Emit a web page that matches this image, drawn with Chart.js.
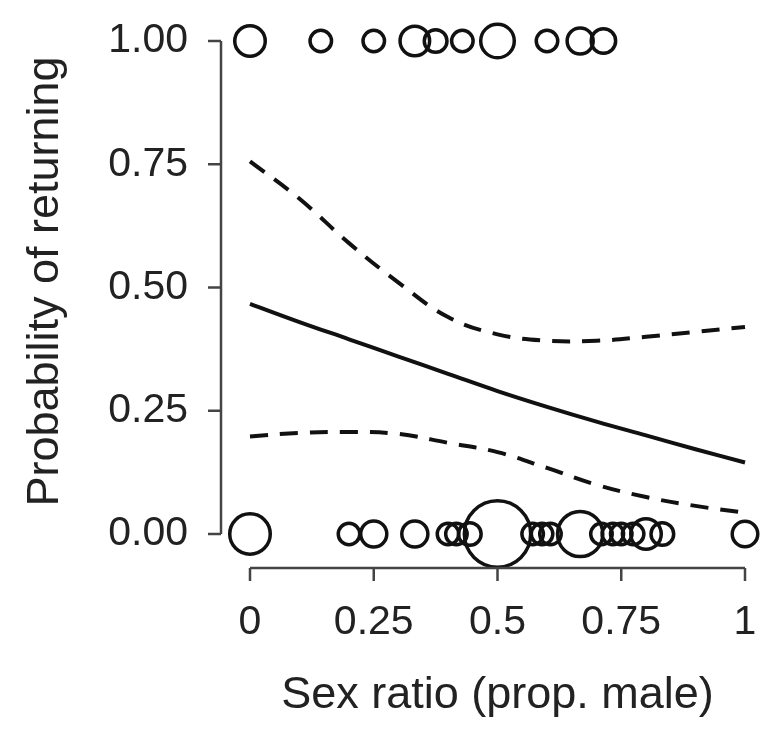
<!DOCTYPE html>
<html>
<head>
<meta charset="utf-8">
<script src="https://cdn.jsdelivr.net/npm/chart.js@4/dist/chart.umd.min.js"></script>
<style>
  body { margin: 0; background: #fff; }
  #wrap { width: 782px; height: 740px; }
</style>
</head>
<body>
<div id="wrap"><canvas id="chart"></canvas></div>
<script>
// observed sites: sex ratio and relative weight (circle area)
const topX = [0, 0.143, 0.25, 0.333, 0.375, 0.429, 0.5, 0.6, 0.667, 0.714];
const topW = [1.85, 1, 1, 1.75, 1.1, 1, 2.2, 1, 1.4, 1.25];
const bottomX = [0, 0.2, 0.25, 0.333, 0.4, 0.417, 0.444, 0.5, 0.571, 0.59, 0.607, 0.667, 0.71, 0.733, 0.75, 0.774, 0.8, 0.833, 1];
const bottomW = [3.1, 1, 1.4, 1.4, 1, 1, 1.1, 7.8, 1, 1, 1, 3.8, 1, 1, 1, 1, 1.85, 1.1, 1.35];

// fitted curve with confidence band
const curveX = [0, 0.1, 0.2, 0.3, 0.4, 0.5, 0.6, 0.7, 0.8, 0.9, 1];
const fitMean = [0.467, 0.43, 0.395, 0.36, 0.325, 0.29, 0.258, 0.228, 0.2, 0.172, 0.145];
const fitUpper = [0.756, 0.68, 0.59, 0.51, 0.44, 0.405, 0.392, 0.392, 0.4, 0.41, 0.42];
const fitLower = [0.198, 0.205, 0.207, 0.203, 0.185, 0.166, 0.134, 0.1, 0.075, 0.057, 0.043];

const xTicks = [0, 0.25, 0.5, 0.75, 1];
const xTickLabels = ["0", "0.25", "0.5", "0.75", "1"];
const yTicks = [0, 0.25, 0.5, 0.75, 1];
const yTickLabels = ["0.00", "0.25", "0.50", "0.75", "1.00"];
const xTitle = "Sex ratio (prop. male)";
const yTitle = "Probability of returning";

const FONT = "'Liberation Sans', Arial, sans-serif";
const INK = "#111";
const TEXT = "#222";

let pts = (xs, ys) => xs.map((x, i) => ({ x: x, y: ys[i] }));
let sites = (xs, y, ws) => xs.map((x, i) => ({ x: x, y: y, w: ws[i] }));
let siteRadius = ctx => 12.5 * Math.sqrt(ctx.raw.w) - 1.75;

let lineSet = (data, dashed) => ({
    type: "line",
    data: data,
    borderColor: INK,
    borderWidth: 4,
    borderDash: dashed ? [18, 12] : [],
    pointRadius: 0,
    tension: 0.4,
    fill: false,
    clip: false
});

let circleSet = (data) => ({
    type: "scatter",
    data: data,
    borderColor: INK,
    backgroundColor: "rgba(0,0,0,0)",
    borderWidth: 3.5,
    pointRadius: siteRadius,
    pointHoverRadius: siteRadius,
    clip: false
});

// R-style detached axes, drawn from the chart's own scales
const rAxes = {
    id: "rAxes",
    afterDraw(chart) {
        let c = chart.ctx, a = chart.chartArea;
        let xs = chart.scales.x, ys = chart.scales.y;
        c.save();
        c.strokeStyle = "#444";
        c.lineWidth = 2.5;
        c.fillStyle = TEXT;

        // y axis
        let axX = a.left - 29;
        c.beginPath();
        c.moveTo(axX, ys.getPixelForValue(yTicks[0]));
        c.lineTo(axX, ys.getPixelForValue(yTicks[yTicks.length - 1]));
        yTicks.forEach(t => {
            let py = ys.getPixelForValue(t);
            c.moveTo(axX, py);
            c.lineTo(axX - 13, py);
        });
        c.stroke();
        c.font = "41px " + FONT;
        c.textAlign = "right";
        c.textBaseline = "middle";
        yTicks.forEach((t, i) => c.fillText(yTickLabels[i], axX - 33, ys.getPixelForValue(t)));

        // x axis
        let axY = a.bottom + 34;
        c.beginPath();
        c.moveTo(xs.getPixelForValue(xTicks[0]), axY);
        c.lineTo(xs.getPixelForValue(xTicks[xTicks.length - 1]), axY);
        xTicks.forEach(t => {
            let px = xs.getPixelForValue(t);
            c.moveTo(px, axY);
            c.lineTo(px, axY + 13);
        });
        c.stroke();
        c.textAlign = "center";
        c.textBaseline = "alphabetic";
        xTicks.forEach((t, i) => c.fillText(xTickLabels[i], xs.getPixelForValue(t), axY + 66));

        // titles
        c.font = "45px " + FONT;
        c.fillText(xTitle, (a.left + a.right) / 2, axY + 140);
        c.translate(58, (a.top + a.bottom) / 2 - 6);
        c.rotate(-Math.PI / 2);
        c.fillText(yTitle, 0, 0);
        c.restore();
    }
};

let chart = new Chart("chart", {
    type: "scatter",
    data: {
        datasets: [
            lineSet(pts(curveX, fitUpper), true),
            lineSet(pts(curveX, fitMean), false),
            lineSet(pts(curveX, fitLower), true),
            circleSet(sites(topX, 1, topW)),
            circleSet(sites(bottomX, 0, bottomW))
        ]
    },
    options: {
        responsive: true,
        maintainAspectRatio: false,
        animation: false,
        layout: { padding: { left: 250, right: 37, top: 41, bottom: 206 } },
        plugins: { legend: { display: false }, tooltip: { enabled: false } },
        scales: {
            x: { type: "linear", min: 0, max: 1, display: false },
            y: { type: "linear", min: 0, max: 1, display: false }
        }
    },
    plugins: [rAxes]
});
</script>
</body>
</html>
